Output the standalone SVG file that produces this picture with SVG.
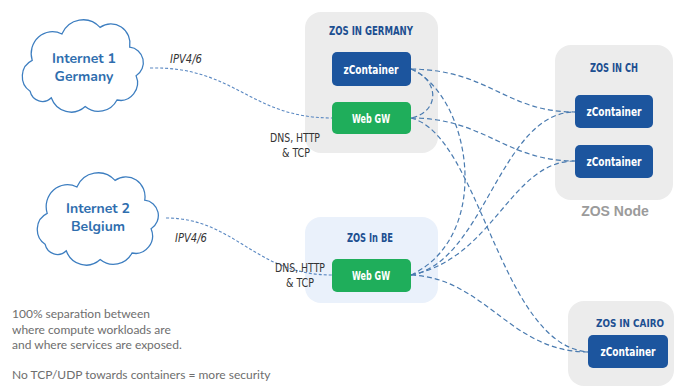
<svg xmlns="http://www.w3.org/2000/svg" width="676" height="389" viewBox="0 0 676 389">
<defs>
<style>
.bg{fill:#ffffff}
.zone{fill:#ececec}
.zoneBE{fill:#eaf1fb}
.blue{fill:#1c559e}
.green{fill:#1fae5b}
.title{font-family:"DejaVu Sans Condensed","Liberation Sans Narrow","Liberation Sans",sans-serif;font-weight:bold;font-size:12.5px;fill:#1d4f91;text-anchor:middle}
.btxt{font-family:"DejaVu Sans Condensed","Liberation Sans Narrow","Liberation Sans",sans-serif;font-weight:bold;font-size:12px;fill:#ffffff;text-anchor:middle}
.lbl{font-family:"DejaVu Sans Condensed","Liberation Sans Narrow","Liberation Sans",sans-serif;font-size:11.5px;fill:#333333}
.ital{font-style:italic}
.cloud{fill:#ffffff;stroke:#3d7ec0;stroke-width:1.2}
.ctxt{font-family:"Nunito","Lato","Open Sans",sans-serif;font-weight:bold;font-size:14px;fill:#2f6eae;text-anchor:middle}
.note{font-family:Lato,"Open Sans",sans-serif;font-size:12px;fill:#6e6e6e}
.node{font-family:"Liberation Sans",Arial,sans-serif;font-weight:bold;font-size:14px;fill:#9b9b9b;text-anchor:middle}
.thin{fill:none;stroke:#5a88c2;stroke-width:1.1;stroke-dasharray:3 2}
.dash{fill:none;stroke:#4a7bb0;stroke-width:1.2;stroke-dasharray:5 3}
</style>
<path id="cloudShape" d="M18,62 a16,16 0 0,1 2,-28 a20,20 0 0,1 28,-24 a22,22 0 0,1 36,-6 a18,18 0 0,1 28,18 a14,14 0 0,1 6,26 a16,16 0 0,1 -18,22 a20,20 0 0,1 -30,6 a20,20 0 0,1 -32,-8 a12,12 0 0,1 -20,-6 z"/>
</defs>
<rect class="bg" x="0" y="0" width="676" height="389"/>

<g id="zone-germany">
<rect class="zone" x="305" y="12" width="133" height="141" rx="16"/>
<text class="title" x="371" y="35" textLength="84" lengthAdjust="spacingAndGlyphs">ZOS IN GERMANY</text>
</g>
<g id="zone-ch">
<rect class="zone" x="555" y="45" width="118" height="155" rx="16"/>
<text class="title" x="614" y="72" textLength="48" lengthAdjust="spacingAndGlyphs">ZOS IN CH</text>
<text class="node" x="615" y="216">ZOS Node</text>
</g>
<g id="zone-be">
<rect class="zoneBE" x="305" y="217" width="133" height="86" rx="16"/>
<text class="title" x="370" y="242" textLength="46" lengthAdjust="spacingAndGlyphs">ZOS In BE</text>
</g>
<g id="zone-cairo">
<rect class="zone" x="568" y="301" width="106" height="85" rx="16"/>
<text class="title" x="630" y="327" style="font-size:11px" textLength="68" lengthAdjust="spacingAndGlyphs">ZOS IN CAIRO</text>
</g>

<g id="connectors">
<path class="thin" d="M150,68 C235,66 250,118 332,118"/>
<path class="thin" d="M166,218 C235,218 255,275 332,275"/>
<path class="dash" d="M411,69 C440,80 440,112 411,118"/>
<path class="dash" d="M411,69 C490,70 505,112 575,112"/>
<path class="dash" d="M411,118 C485,118 505,161 575,161"/>
<path class="dash" d="M411,69 C470,95 495,235 411,275"/>
<path class="dash" d="M411,118 C480,135 500,345 588,352"/>
<path class="dash" d="M411,275 C485,262 500,112 575,112"/>
<path class="dash" d="M411,275 C495,258 510,161 575,161"/>
<path class="dash" d="M411,275 C485,278 510,352 588,352"/>
</g>

<g id="internet1">
<use href="#cloudShape" class="cloud" transform="translate(11,23) scale(1.06,1.1)"/>
<text class="ctxt" x="84" y="63">Internet 1</text>
<text class="ctxt" x="84" y="81">Germany</text>
</g>
<g id="internet2">
<use href="#cloudShape" class="cloud" transform="translate(26,176) scale(1.06,1.1)"/>
<text class="ctxt" x="98" y="213">Internet 2</text>
<text class="ctxt" x="98" y="231">Belgium</text>
</g>

<g id="de-zcontainer">
<rect class="blue" x="332" y="52" width="79" height="34" rx="5"/>
<text class="btxt" x="371" y="74" textLength="55" lengthAdjust="spacingAndGlyphs">zContainer</text>
</g>
<g id="de-webgw">
<rect class="green" x="332" y="102" width="79" height="32" rx="5"/>
<text class="btxt" x="371" y="123" textLength="38" lengthAdjust="spacingAndGlyphs">Web GW</text>
</g>
<g id="ch-zcontainer-1">
<rect class="blue" x="575" y="95" width="78" height="33" rx="5"/>
<text class="btxt" x="614" y="116" textLength="55" lengthAdjust="spacingAndGlyphs">zContainer</text>
</g>
<g id="ch-zcontainer-2">
<rect class="blue" x="575" y="145" width="78" height="33" rx="5"/>
<text class="btxt" x="614" y="166" textLength="55" lengthAdjust="spacingAndGlyphs">zContainer</text>
</g>
<g id="be-webgw">
<rect class="green" x="332" y="259" width="79" height="33" rx="5"/>
<text class="btxt" x="371" y="280" textLength="38" lengthAdjust="spacingAndGlyphs">Web GW</text>
</g>
<g id="cairo-zcontainer">
<rect class="blue" x="588" y="335" width="80" height="33" rx="5"/>
<text class="btxt" x="628" y="356" textLength="55" lengthAdjust="spacingAndGlyphs">zContainer</text>
</g>

<g id="labels">
<text class="lbl ital" x="170" y="63" textLength="32" lengthAdjust="spacingAndGlyphs">IPV4/6</text>
<text class="lbl" x="270" y="142" textLength="50" lengthAdjust="spacingAndGlyphs">DNS, HTTP</text>
<text class="lbl" x="282" y="157" textLength="28" lengthAdjust="spacingAndGlyphs">&amp; TCP</text>
<text class="lbl ital" x="175" y="242" textLength="32" lengthAdjust="spacingAndGlyphs">IPV4/6</text>
<text class="lbl" x="275" y="272" textLength="50" lengthAdjust="spacingAndGlyphs">DNS, HTTP</text>
<text class="lbl" x="286" y="287" textLength="28" lengthAdjust="spacingAndGlyphs">&amp; TCP</text>
</g>

<g id="notes">
<text class="note" x="12" y="318">100% separation between</text>
<text class="note" x="12" y="334">where compute workloads are</text>
<text class="note" x="12" y="349">and where services are exposed.</text>
<text class="note" x="12" y="379">No TCP/UDP towards containers = more security</text>
</g>
</svg>
